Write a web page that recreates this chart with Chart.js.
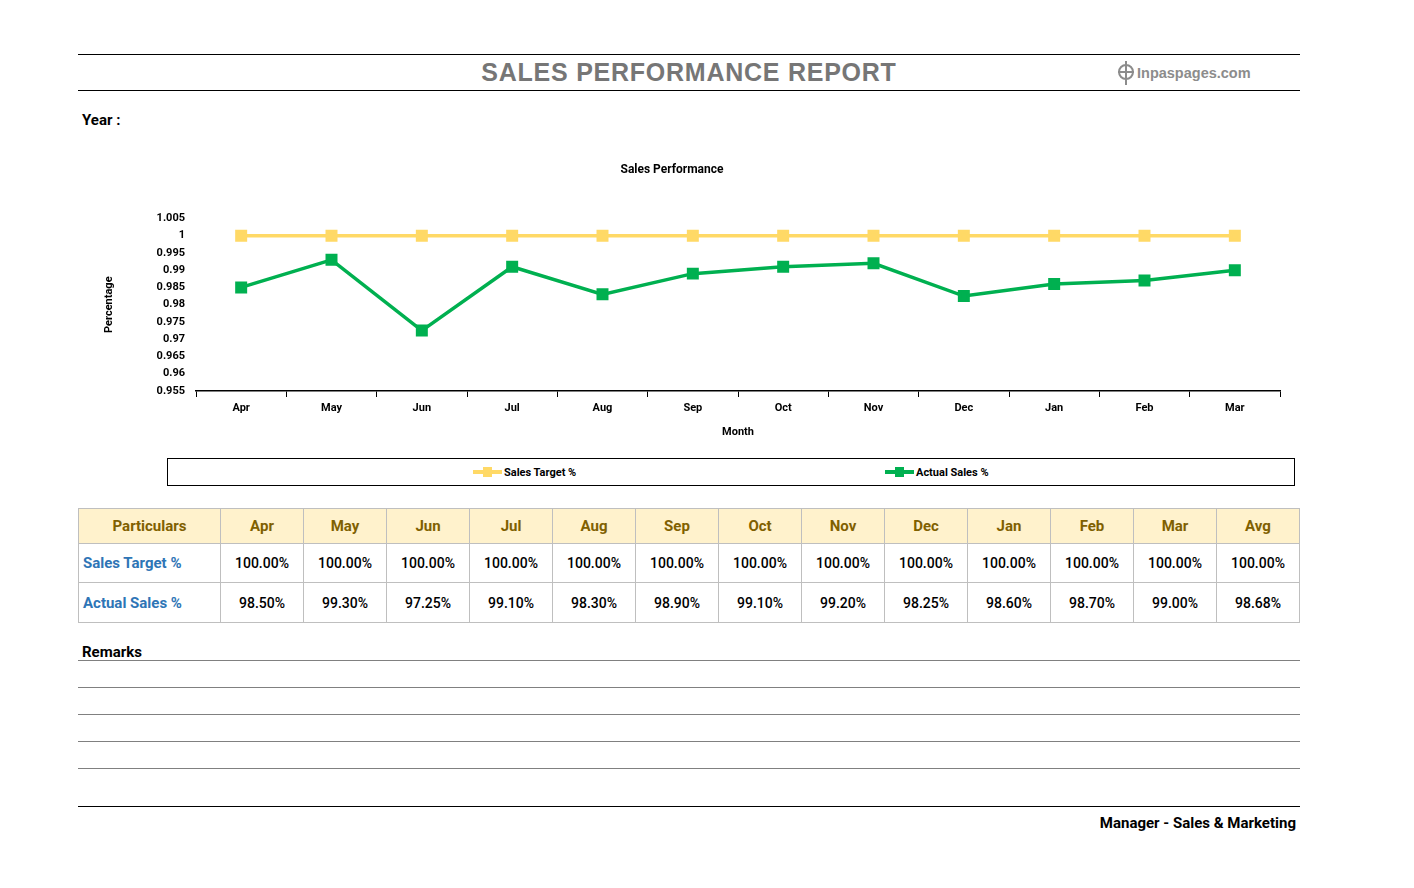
<!DOCTYPE html>
<html>
<head>
<meta charset="utf-8">
<script src="https://cdn.jsdelivr.net/npm/chart.js@4/dist/chart.umd.min.js"></script>
<style>
  html, body { margin: 0; padding: 0; background: #fff; }
  body { width: 1414px; height: 888px; position: relative; overflow: hidden; font-family: Roboto, "Noto Sans", sans-serif; }
  .abs { position: absolute; }
  .hline { position: absolute; left: 78px; width: 1222px; height: 0; }
  #title { left: 78px; width: 1222px; top: 58px; text-align: center; font-family: "Liberation Sans", Arial, sans-serif; font-weight: bold; font-size: 25px; color: #767676; letter-spacing: 0.75px; }
  #logo { left: 1116px; top: 61px; font-family: "Liberation Sans", Arial, sans-serif; font-weight: bold; font-size: 14.5px; color: #8c8c8c; display: flex; align-items: center; }
  #year { left: 82px; top: 111px; font-weight: bold; font-size: 15px; color: #000; }
  #chartWrap { left: 64px; top: 150px; width: 1241px; height: 292px; }
  #legend { left: 167px; top: 458px; width: 1126px; height: 26px; border: 1px solid #000; font-weight: bold; font-size: 11px; }
  .leg { position: absolute; top: 0; height: 26px; display: flex; align-items: center; }
  .sw { position: relative; width: 29px; height: 4px; margin-right: 2px; }
  .sw i { position: absolute; left: 10px; top: -3px; width: 9px; height: 10px; }
  table { position: absolute; left: 78px; top: 508px; border-collapse: collapse; table-layout: fixed; }
  td, th { border: 1px solid #bfbfbf; padding: 0; text-align: center; font-size: 14px; }
  th { background: #fff2cc; color: #7f6000; font-weight: bold; font-size: 15px; height: 34px; }
  td { color: #000; font-weight: 500; }
  td.lbl { text-align: left; padding-left: 4px; color: #2e75b6; font-weight: bold; font-size: 15px; }
  tr.r1 td { height: 38px; }
  tr.r2 td { height: 39px; }
  #remarks { left: 82px; top: 643px; font-weight: bold; font-size: 15px; }
  #mgr { right: 118px; top: 814px; font-weight: bold; font-size: 15px; }
</style>
</head>
<body>
<script>
// ---- data ----
const months = ["Apr","May","Jun","Jul","Aug","Sep","Oct","Nov","Dec","Jan","Feb","Mar"];
const salesTarget = [1, 1, 1, 1, 1, 1, 1, 1, 1, 1, 1, 1];
const actualSales = [0.985, 0.993, 0.9725, 0.991, 0.983, 0.989, 0.991, 0.992, 0.9825, 0.986, 0.987, 0.990];
const seriesNames = ["Sales Target %", "Actual Sales %"];
const yTicksMin = 0.955, yTicksMax = 1.005, yTickStep = 0.005;
const avgLabel = "Avg";
</script>

<div class="hline" style="top:54px;border-top:1px solid #000;"></div>
<div class="abs" id="title">SALES PERFORMANCE REPORT</div>
<div class="abs" id="logo">
  <svg width="20" height="24" viewBox="0 0 20 24" style="margin-right:1px">
    <circle cx="10" cy="11" r="7" fill="none" stroke="#8c8c8c" stroke-width="2"/>
    <line x1="10" y1="0" x2="10" y2="24" stroke="#8c8c8c" stroke-width="2"/>
    <line x1="2" y1="11" x2="18" y2="11" stroke="#8c8c8c" stroke-width="2"/>
  </svg><span>Inpaspages.com</span>
</div>
<div class="hline" style="top:90px;border-top:1px solid #000;"></div>
<div class="abs" id="year">Year :</div>

<div class="abs" id="chartWrap"><canvas id="c"></canvas></div>

<div class="abs" id="legend"></div>

<table id="tbl"></table>

<div class="abs" id="remarks">Remarks</div>
<div class="hline" style="top:660px;border-top:1px solid #808080;"></div>
<div class="hline" style="top:687px;border-top:1px solid #808080;"></div>
<div class="hline" style="top:714px;border-top:1px solid #808080;"></div>
<div class="hline" style="top:741px;border-top:1px solid #808080;"></div>
<div class="hline" style="top:768px;border-top:1px solid #808080;"></div>
<div class="hline" style="top:806px;border-top:1px solid #000;"></div>
<div class="abs" id="mgr">Manager - Sales &amp; Marketing</div>

<script>
const colors = ["#ffd966", "#00b050"];
const seriesData = [salesTarget, actualSales];

// legend (HTML)
const legend = document.getElementById('legend');
const legPos = [305, 717];
seriesNames.forEach((n, i) => {
  const d = document.createElement('div');
  d.className = 'leg';
  d.style.left = legPos[i] + 'px';
  d.innerHTML = '<div class="sw" style="background:' + colors[i] + '"><i style="background:' + colors[i] + '"></i></div><span>' + n + '</span>';
  legend.appendChild(d);
});

// table
const fmt = v => (v * 100).toFixed(2) + '%';
const avg = arr => arr.reduce((a, b) => a + b, 0) / arr.length;
const tbl = document.getElementById('tbl');
let html = '<colgroup><col style="width:142px">' + months.map(() => '<col style="width:83px">').join('') + '<col style="width:83px"></colgroup>';
html += '<tr><th>Particulars</th>' + months.map(m => '<th>' + m + '</th>').join('') + '<th>' + avgLabel + '</th></tr>';
seriesNames.forEach((n, i) => {
  html += '<tr class="r' + (i + 1) + '"><td class="lbl">' + n + '</td>' + seriesData[i].map(v => '<td>' + fmt(v) + '</td>').join('') + '<td>' + fmt(avg(seriesData[i])) + '</td></tr>';
});
tbl.innerHTML = html;

// chart
Chart.defaults.font.family = 'Roboto, "Noto Sans", sans-serif';
Chart.defaults.color = '#000';
new Chart(document.getElementById('c'), {
  type: 'line',
  data: {
    labels: months,
    datasets: seriesNames.map((n, i) => ({
      label: n,
      data: seriesData[i],
      borderColor: colors[i],
      backgroundColor: colors[i],
      borderWidth: 3.5,
      pointStyle: 'rect',
      pointRadius: 6,
      pointHoverRadius: 6,
      tension: 0,
      fill: false
    }))
  },
  options: {
    responsive: true,
    maintainAspectRatio: false,
    animation: false,
    layout: { padding: { left: 0, right: 25, top: 0, bottom: 0 } },
    plugins: {
      legend: { display: false },
      tooltip: { enabled: false },
      title: {
        display: true,
        text: 'Sales Performance',
        font: { size: 12, weight: 'bold' },
        color: '#000',
        padding: { top: 13, bottom: 41 }
      }
    },
    scales: {
      x: {
        offset: true,
        grid: { display: true, offset: true, drawOnChartArea: false, drawTicks: true, tickLength: 6, color: '#000', lineWidth: 1 },
        border: { display: true, color: '#000', width: 1.5 },
        ticks: { font: { size: 11, weight: 'bold' }, padding: 5, maxRotation: 0 },
        title: { display: true, text: 'Month', font: { size: 11, weight: 'bold' }, padding: { top: 10, bottom: 3 } },
        afterFit: s => { s.height = 51; }
      },
      y: {
        min: yTicksMin,
        max: yTicksMax,
        grid: { display: false },
        border: { display: false },
        ticks: {
          stepSize: yTickStep,
          font: { size: 11, weight: 'bold' },
          padding: 3,
          callback: v => String(+(+v).toFixed(3))
        },
        title: { display: true, text: 'Percentage', font: { size: 11, weight: 'bold' }, padding: { top: 39, bottom: 0 } },
        afterFit: s => { s.width = 132; }
      }
    }
  }
});
</script>
</body>
</html>
